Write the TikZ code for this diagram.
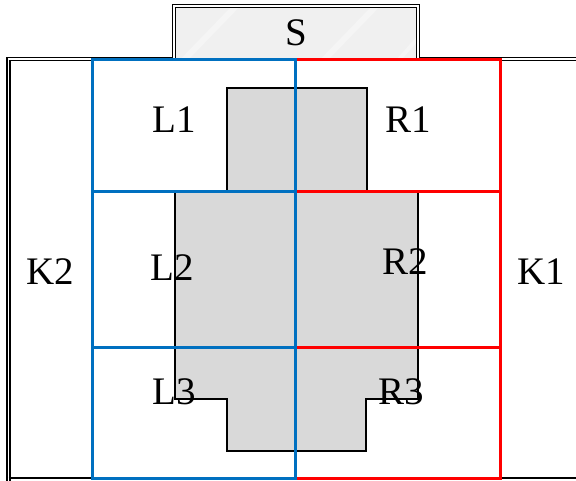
\documentclass[tikz,border=0pt]{standalone}
\usepackage{fontspec}
\setmainfont{Liberation Serif}
\definecolor{gridblue}{HTML}{0070C0}
\definecolor{gridred}{HTML}{FF0000}
\definecolor{bodygray}{HTML}{D9D9D9}
\definecolor{glassgray}{HTML}{F0F0F0}
\begin{document}
\begin{tikzpicture}[x=1pt,y=-1pt,
  lbl/.style={font=\fontsize{39}{39}\selectfont, inner sep=0pt, text=black},
  frame/.style={draw=black, line width=1.5pt, double=white, double distance=1.2pt},
  bluecell/.style={draw=gridblue, line width=3pt},
  redcell/.style={draw=gridred, line width=3pt},
  bodyshape/.style={draw=black, line width=1.6pt, fill=bodygray}]
\useasboundingbox (0,0) rectangle (576,480);
\clip (0,0) rectangle (576,480);

% outer frame (K): double on the left and top, plain base line
\draw[frame] (8.5,490) -- (8.5,59) -- (640,59);
\draw[black, line width=2pt] (8.5,478) -- (640,478);

% glass panel S on top
\fill[glassgray] (174,6) rectangle (418,59);
\begin{scope}
  \clip (174,6) rectangle (418,59);
  \draw[white, line width=6pt, opacity=0.35] (180,64) -- (240,2);
  \draw[white, line width=6pt, opacity=0.35] (320,64) -- (380,2);
  \draw[white, line width=4pt, opacity=0.35] (395,64) -- (450,2);
\end{scope}
\draw[frame] (174,59) -- (174,6) -- (418,6) -- (418,59);

% grey body
\draw[bodyshape] (227,88) -- (367,88) -- (367,191) -- (418,191) -- (418,399)
  -- (366,399) -- (366,451) -- (227,451) -- (227,399) -- (175,399)
  -- (175,191) -- (227,191) -- cycle;

% right grid (red)
\draw[redcell] (295,59) rectangle (500,478);
\draw[redcell] (295,191) -- (500,191);
\draw[redcell] (295,347) -- (500,347);

% left grid (blue)
\draw[bluecell] (92,59) rectangle (295,478);
\draw[bluecell] (92,191) -- (295,191);
\draw[bluecell] (92,347) -- (295,347);

% labels
\node[lbl] (S)  at (296,33)  {S};
\node[lbl] (L1) at (174,120) {L1};
\node[lbl] (R1) at (408,120) {R1};
\node[lbl] (L2) at (172,268) {L2};
\node[lbl] (R2) at (405,262) {R2};
\node[lbl] (K2) at (50,272)  {K2};
\node[lbl] (K1) at (541,272) {K1};
\node[lbl] (L3) at (174,392) {L3};
\node[lbl] (R3) at (401,392) {R3};
\end{tikzpicture}
\end{document}
